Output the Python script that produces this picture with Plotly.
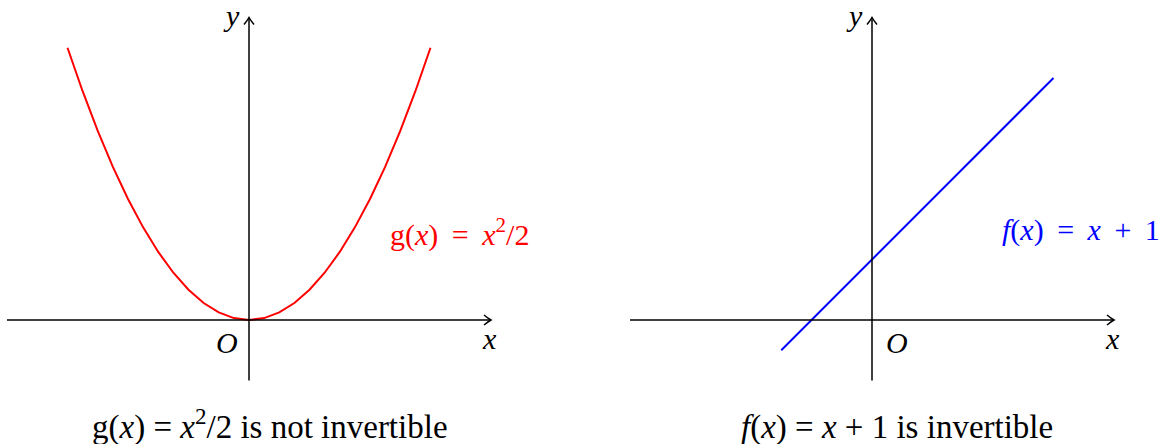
import plotly.graph_objects as go

# --- data ---
parab_x = [-3, -2.75, -2.5, -2.25, -2, -1.75, -1.5, -1.25, -1, -0.75, -0.5, -0.25, 0,
           0.25, 0.5, 0.75, 1, 1.25, 1.5, 1.75, 2, 2.25, 2.5, 2.75, 3]
parab_y = [4.5, 3.78125, 3.125, 2.53125, 2, 1.53125, 1.125, 0.78125, 0.5, 0.28125, 0.125, 0.03125, 0,
           0.03125, 0.125, 0.28125, 0.5, 0.78125, 1.125, 1.53125, 2, 2.53125, 3.125, 3.78125, 4.5]
line_x = [-1.5, 3]
line_y = [-0.5, 4]
axis_x_ext = [-4, 4]
axis_y_ext = [-1, 5]

W, H = 1163, 444
U = 60.5
FONT = "Liberation Serif"

fig = go.Figure()
fig.add_trace(go.Scatter(x=parab_x, y=parab_y, mode="lines",
                         line=dict(color="#ff0000", width=2), xaxis="x", yaxis="y",
                         showlegend=False, hoverinfo="skip"))
fig.add_trace(go.Scatter(x=line_x, y=line_y, mode="lines",
                         line=dict(color="#0000ff", width=2), xaxis="x2", yaxis="y",
                         showlegend=False, hoverinfo="skip"))

shapes = []
ah = 7 / U
aw = 5 / U
for xr in ["x", "x2"]:
    shapes.append(dict(type="line", xref=xr, yref="y", x0=axis_x_ext[0], y0=0, x1=axis_x_ext[1], y1=0,
                       line=dict(color="black", width=1.5)))
    shapes.append(dict(type="line", xref=xr, yref="y", x0=0, y0=axis_y_ext[0], x1=0, y1=axis_y_ext[1],
                       line=dict(color="black", width=1.5)))
    xe, ye = axis_x_ext[1], axis_y_ext[1]
    shapes.append(dict(type="path", xref=xr, yref="y",
                       path=f"M {xe-ah},{aw} Q {xe-ah*0.4},{aw*0.3} {xe},0 Q {xe-ah*0.4},{-aw*0.3} {xe-ah},{-aw}",
                       line=dict(color="black", width=1.5)))
    shapes.append(dict(type="path", xref=xr, yref="y",
                       path=f"M {-aw},{ye-ah} Q {-aw*0.3},{ye-ah*0.4} 0,{ye} Q {aw*0.3},{ye-ah*0.4} {aw},{ye-ah}",
                       line=dict(color="black", width=1.5)))

ann = []
def t(xr, x, y, text, xa="center", ya="middle", color="black", size=30, ys=0):
    ann.append(dict(xref=xr, yref="y" if xr != "paper" else "paper", x=x, y=y, text=text,
                    showarrow=False, xanchor=xa, yanchor=ya, yshift=ys,
                    font=dict(family=FONT, size=size, color=color)))

S = "\u2009"
for xr in ["x", "x2"]:
    t(xr, -0.12, 320 / U, "<i>y</i>", xa="right", ya="top", ys=3)
    t(xr, 3.98, -0.3, "<i>x</i>", xa="center")
t("x", -0.15, -0.38, "<i>O</i>", xa="right")
t("x2", 0.2, -0.38, "<i>O</i>", xa="left")
t("x", 2.3, 1.45, f"g(<i>x</i>) {S}={S} <i>x</i><sup>2</sup>/2", xa="left", color="#ff0000")
t("x2", 2.12, 1.49, f"<i>f</i>(<i>x</i>) {S}={S} <i>x</i> {S}+{S} 1", xa="left", color="#0000ff")
t("paper", 270 / W, 0, "g(<i>x</i>) = <i>x</i><sup>2</sup>/2 is not invertible", size=33, ya="bottom", ys=-4)
t("paper", 897 / W, 0, "<i>f</i>(<i>x</i>) = <i>x</i> + 1 is invertible", size=33, ya="bottom", ys=-4)

half = 249 / U
fig.update_layout(
    width=W, height=H, margin=dict(l=0, r=0, t=0, b=0),
    paper_bgcolor="white", plot_bgcolor="white",
    xaxis=dict(domain=[0, 498 / W], range=[-half, half], visible=False),
    xaxis2=dict(domain=[623 / W, 1121 / W], range=[-half, half], visible=False, anchor="y"),
    yaxis=dict(domain=[0, 1], range=[-(H - 320) / U, 320 / U], visible=False),
    shapes=shapes, annotations=ann,
)
fig.write_html("out.html", config={"displayModeBar": False},
               post_script="document.body.style.margin='0';document.body.style.overflow='hidden';")
